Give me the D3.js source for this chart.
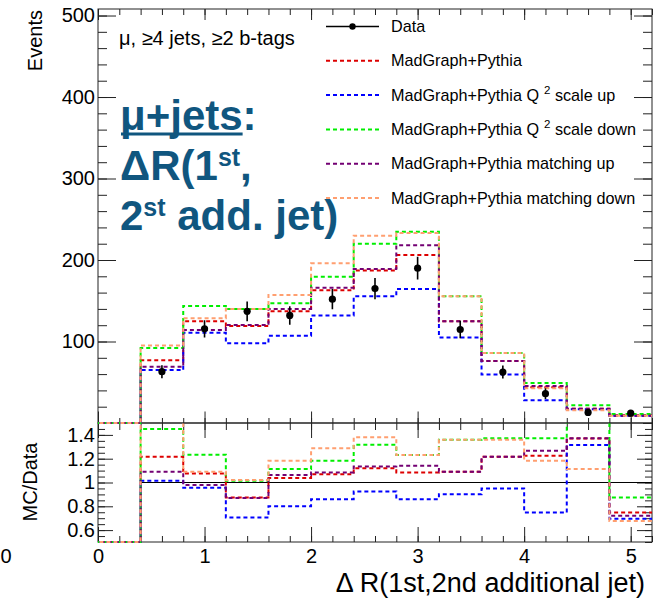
<!DOCTYPE html>
<html>
<head>
<meta charset="utf-8">
<script src="https://cdn.jsdelivr.net/npm/d3@7"></script>
<style>
  body { margin: 0; background: #fff; }
  svg { display: block; font-family: "Liberation Sans", Arial, Helvetica, sans-serif; }
</style>
</head>
<body>
<svg id="chart" width="662" height="603"></svg>
<script>
const edges = [0, 0.4, 0.8, 1.2, 1.6, 2.0, 2.4, 2.8, 3.2, 3.6, 4.0, 4.4, 4.8, 5.2];
const dataCenters = [0.6, 1.0, 1.4, 1.8, 2.2, 2.6, 3.0, 3.4, 3.8, 4.2, 4.6, 5.0];
const dataEvents = [63, 115.5, 137, 132, 152, 165, 190, 114.7, 62.5, 36, 13, 12];
const dataErrors = [8, 10.6, 12, 11.4, 12.5, 13, 14, 10.8, 8, 6.5, 4, 4];

// MC histograms, first bin (0-0.4) is empty
const mgNominal   = [0, 77, 125, 119, 137, 163, 187, 206, 125, 76, 44, 17.5, 9.5];
const mgScaleUp   = [0, 65, 110.6, 98, 107, 132, 155.6, 164.5, 105, 59.6, 27.8, 17, 9];
const mgScaleDown = [0, 92, 143.7, 140, 147, 179.6, 220, 234.7, 155.6, 85.8, 49, 21.7, 11];
const mgMatchUp   = [0, 69, 114, 120.4, 140, 166, 189, 218, 125, 76, 45.5, 17.5, 9];
const mgMatchDown = [0, 95, 128.6, 140, 157, 196, 229.8, 233, 155.6, 85.8, 42.5, 15.6, 9];

// MC/Data ratios
const ratioData      = [0, 1, 1, 1, 1, 1, 1, 1, 1, 1, 1, 1, 1];
const ratioNominal   = [0, 1.217, 1.076, 0.873, 1.037, 1.07, 1.12, 1.085, 1.09, 1.217, 1.225, 1.37, 0.747];
const ratioScaleUp   = [0, 1.015, 0.955, 0.705, 0.80, 0.86, 0.924, 0.86, 0.902, 0.95, 0.747, 1.316, 0.696];
const ratioScaleDown = [0, 1.45, 1.234, 1.015, 1.113, 1.183, 1.318, 1.231, 1.36, 1.371, 1.371, 1.67, 0.873];
const ratioMatchUp   = [0, 1.09, 0.98, 0.87, 1.062, 1.085, 1.135, 1.141, 1.09, 1.217, 1.267, 1.371, 0.72];
const ratioMatchDown = [0, 1.56, 1.09, 1.02, 1.183, 1.287, 1.38, 1.231, 1.36, 1.36, 1.183, 1.113, 0.677];

const yTicksEvents = [100, 200, 300, 400, 500];
const yTicksRatio = [0.6, 0.8, 1, 1.2, 1.4];
const xTicks = [0, 1, 2, 3, 4, 5];

const series = [
  { label: 'MadGraph+Pythia', color: '#dd0000', hist: mgNominal, ratio: ratioNominal },
  { label: 'MadGraph+Pythia Q|2| scale up', color: '#0000ff', hist: mgScaleUp, ratio: ratioScaleUp },
  { label: 'MadGraph+Pythia Q|2| scale down', color: '#00ee00', hist: mgScaleDown, ratio: ratioScaleDown },
  { label: 'MadGraph+Pythia matching up', color: '#730073', hist: mgMatchUp, ratio: ratioMatchUp },
  { label: 'MadGraph+Pythia matching down', color: '#ff9f70', hist: mgMatchDown, ratio: ratioMatchDown }
];

const left = 98, right = 652;
const topY = 9, midY = 423, botY = 542;

const svg = d3.select('#chart');

const x = d3.scaleLinear().domain([0, 5.2]).range([left, right]);
const yEv = d3.scaleLinear().domain([0, 508]).range([midY, topY]);
const yRat = d3.scaleLinear().domain([0.5, 1.5]).range([botY, midY]);

const minorX = d3.range(0, 5.21, 0.2);

svg.append('clipPath').attr('id', 'clipTop')
  .append('rect').attr('x', left).attr('y', topY).attr('width', right - left).attr('height', midY - topY + 1.5);
svg.append('clipPath').attr('id', 'clipBot')
  .append('rect').attr('x', left).attr('y', midY + 0.5).attr('width', right - left).attr('height', botY - midY + 0.5);

function stepPoints(vals) {
  const pts = vals.map((v, i) => [edges[i], v]);
  pts.push([edges[edges.length - 1], vals[vals.length - 1]]);
  return pts;
}

function tickAxis(axis, scale, values, size, transform) {
  svg.append('g')
    .attr('transform', transform)
    .call(axis(scale).tickValues(values).tickSize(size).tickFormat(''))
    .call(g => g.select('.domain').remove())
    .call(g => g.selectAll('line').attr('stroke', '#222'));
}

// upper panel ticks
tickAxis(d3.axisTop, x, minorX, 5, `translate(0,${midY})`);
tickAxis(d3.axisTop, x, xTicks, 11.5, `translate(0,${midY})`);
tickAxis(d3.axisBottom, x, minorX, 6, `translate(0,${topY})`);
tickAxis(d3.axisBottom, x, xTicks, 11, `translate(0,${topY})`);
tickAxis(d3.axisRight, yEv, d3.range(0, 509, 20), 9, `translate(${left},0)`);
tickAxis(d3.axisRight, yEv, yTicksEvents, 18, `translate(${left},0)`);
tickAxis(d3.axisLeft, yEv, d3.range(0, 509, 20), 9, `translate(${right},0)`);
tickAxis(d3.axisLeft, yEv, yTicksEvents, 18, `translate(${right},0)`);

// lower panel ticks
tickAxis(d3.axisBottom, x, minorX, 7, `translate(0,${midY})`);
tickAxis(d3.axisBottom, x, xTicks, 15, `translate(0,${midY})`);
tickAxis(d3.axisTop, x, minorX, 6, `translate(0,${botY})`);
tickAxis(d3.axisTop, x, xTicks, 15, `translate(0,${botY})`);
tickAxis(d3.axisRight, yRat, d3.range(0.5, 1.51, 0.05), 7, `translate(${left},0)`);
tickAxis(d3.axisRight, yRat, yTicksRatio, 15, `translate(${left},0)`);
tickAxis(d3.axisLeft, yRat, d3.range(0.5, 1.51, 0.05), 7, `translate(${right},0)`);
tickAxis(d3.axisLeft, yRat, yTicksRatio, 15, `translate(${right},0)`);

// tick labels
svg.append('g')
  .attr('transform', `translate(${left - 3},0)`)
  .call(d3.axisLeft(yEv).tickValues(yTicksEvents).tickSize(0).tickPadding(0))
  .call(g => g.select('.domain').remove())
  .attr('font-size', 20).attr('font-family', null)
  .selectAll('text').attr('fill', '#000');

svg.append('g')
  .attr('transform', `translate(${left - 3},0)`)
  .call(d3.axisLeft(yRat).tickValues(yTicksRatio).tickSize(0).tickPadding(0)
    .tickFormat(d => d === 1 ? '1' : d3.format('.1f')(d)))
  .call(g => g.select('.domain').remove())
  .attr('font-size', 20).attr('font-family', null)
  .selectAll('text').attr('fill', '#000');

svg.append('g')
  .attr('transform', `translate(0,${botY})`)
  .call(d3.axisBottom(x).tickValues(xTicks).tickSize(0).tickPadding(6.5).tickFormat(d3.format('d')))
  .call(g => g.select('.domain').remove())
  .attr('font-size', 20).attr('font-family', null)
  .selectAll('text').attr('fill', '#000');

svg.append('text').attr('x', 6).attr('y', botY + 20.7)
  .attr('text-anchor', 'middle').attr('font-size', 20).text('0');

// frames
svg.append('rect').attr('x', left).attr('y', topY).attr('width', right - left).attr('height', midY - topY)
  .attr('fill', 'none').attr('stroke', '#222');
svg.append('rect').attr('x', left).attr('y', midY).attr('width', right - left).attr('height', botY - midY)
  .attr('fill', 'none').attr('stroke', '#222');

// histograms
const lineEv = d3.line().x(d => x(d[0])).y(d => yEv(d[1])).curve(d3.curveStepAfter);
const lineRat = d3.line().x(d => x(d[0])).y(d => yRat(Math.max(d[1], 0.5))).curve(d3.curveStepAfter);

const gTop = svg.append('g').attr('clip-path', 'url(#clipTop)');
const gBot = svg.append('g').attr('clip-path', 'url(#clipBot)');

gBot.append('path')
  .attr('d', lineRat(stepPoints(ratioData)))
  .attr('fill', 'none').attr('stroke', '#000').attr('stroke-width', 1.2);

series.forEach((s, i) => {
  gTop.append('path')
    .attr('d', lineEv(stepPoints(s.hist)))
    .attr('fill', 'none').attr('stroke', s.color).attr('stroke-width', 2)
    .attr('stroke-dasharray', '4,3').attr('stroke-dashoffset', i * 1.4);
  gBot.append('path')
    .attr('d', lineRat(stepPoints(s.ratio)))
    .attr('fill', 'none').attr('stroke', s.color).attr('stroke-width', 2)
    .attr('stroke-dasharray', '4,3').attr('stroke-dashoffset', i * 1.4);
});

// data points
const pts = gTop.append('g');
pts.selectAll('line')
  .data(dataCenters)
  .join('line')
  .attr('x1', d => x(d)).attr('x2', d => x(d))
  .attr('y1', (d, i) => yEv(dataEvents[i] - dataErrors[i]))
  .attr('y2', (d, i) => yEv(dataEvents[i] + dataErrors[i]))
  .attr('stroke', '#000').attr('stroke-width', 1.6);
pts.selectAll('circle')
  .data(dataCenters)
  .join('circle')
  .attr('cx', d => x(d)).attr('cy', (d, i) => yEv(dataEvents[i]))
  .attr('r', 3.6).attr('fill', '#000');

// legend
const legX0 = 326, legX1 = 379, legTextX = 391, legY0 = 26.5, legDy = 34.3;
const leg = svg.append('g').attr('font-size', 16.2);
leg.append('line').attr('x1', legX0).attr('x2', legX1).attr('y1', legY0).attr('y2', legY0)
  .attr('stroke', '#000').attr('stroke-width', 1.6);
leg.append('circle').attr('cx', (legX0 + legX1) / 2).attr('cy', legY0).attr('r', 3.2).attr('fill', '#000');
leg.append('text').attr('x', legTextX).attr('y', legY0 + 5.5).text('Data');

series.forEach((s, i) => {
  const yy = legY0 + legDy * (i + 1);
  leg.append('line').attr('x1', legX0).attr('x2', legX1).attr('y1', yy).attr('y2', yy)
    .attr('stroke', s.color).attr('stroke-width', 2).attr('stroke-dasharray', '4,3');
  const t = leg.append('text').attr('x', legTextX).attr('y', yy + 5.5);
  const parts = s.label.split('|');
  t.append('tspan').text(parts[0]);
  if (parts.length > 1) {
    t.append('tspan').attr('dx', 5).attr('dy', -7).attr('font-size', 11.5).text(parts[1]);
    t.append('tspan').attr('dy', 7).text(parts[2]);
  }
});

// selection text
svg.append('text').attr('x', 119).attr('y', 45).attr('font-size', 20)
  .text('μ, ≥4 jets, ≥2 b-tags');

// big title
const titleColor = '#10567f';
const title = svg.append('g').attr('fill', titleColor).attr('font-weight', 'bold').attr('font-size', 42);
const t1 = title.append('text').attr('x', 120).attr('y', 130);
const t1a = t1.append('tspan').text('μ+jets');
t1.append('tspan').text(':');
const ulen = t1a.node().getComputedTextLength();
title.append('rect').attr('x', 121).attr('y', 132.5).attr('width', ulen - 1).attr('height', 3);

const t2 = title.append('text').attr('x', 120).attr('y', 180);
t2.append('tspan').text('ΔR(1');
t2.append('tspan').attr('font-size', 25).attr('dy', -14).text('st');
t2.append('tspan').attr('dy', 14).text(',');

const t3 = title.append('text').attr('x', 120).attr('y', 230);
t3.append('tspan').text('2');
t3.append('tspan').attr('font-size', 25).attr('dy', -14).text('st');
t3.append('tspan').attr('dy', 14).text(' add. jet)');

// axis titles
svg.append('text').attr('transform', 'translate(42,10) rotate(-90)')
  .attr('text-anchor', 'end').attr('font-size', 20).text('Events');
svg.append('text').attr('transform', 'translate(37,482) rotate(-90)')
  .attr('text-anchor', 'middle').attr('font-size', 20).text('MC/Data');
svg.append('text').attr('x', 645).attr('y', 592)
  .attr('text-anchor', 'end').attr('font-size', 27).text('Δ R(1st,2nd additional jet)');
</script>
</body>
</html>
